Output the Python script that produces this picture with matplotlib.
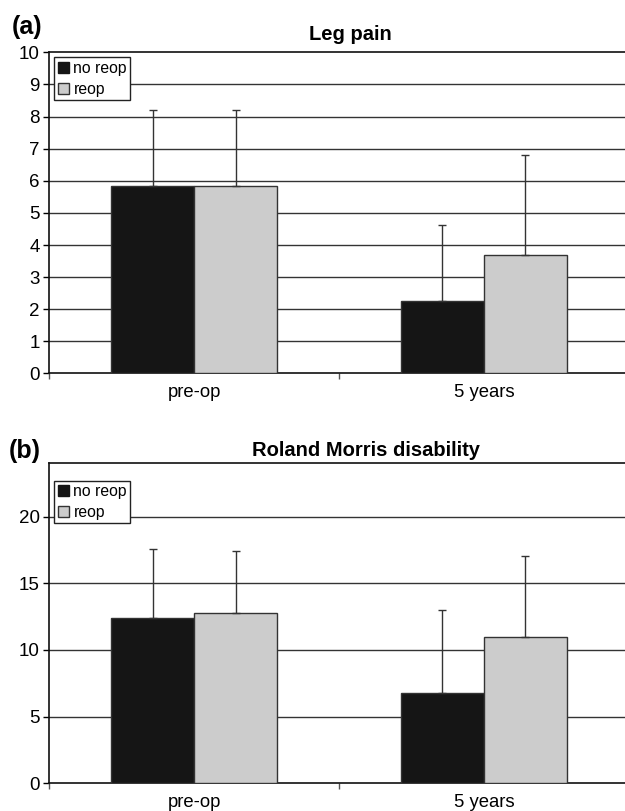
import matplotlib
matplotlib.use("Agg")
import matplotlib.pyplot as plt
from matplotlib.patches import Patch
import numpy as np

plt.rcParams["font.family"] = ["Liberation Sans", "DejaVu Sans"]

BLACK = "#151515"
GREY = "#cccccc"
EDGE = "#333333"
GRID = "#333333"

categories = ["pre-op", "5 years"]
series_names = ["no reop", "reop"]

# (a) Leg pain
leg_noreop = [5.85, 2.26]
leg_reop = [5.85, 3.70]
leg_noreop_sd = [2.34, 2.36]
leg_reop_sd = [2.34, 3.11]
leg_ticks = [0, 1, 2, 3, 4, 5, 6, 7, 8, 9, 10]

# (b) Roland Morris disability
rm_noreop = [12.38, 6.80]
rm_reop = [12.77, 10.95]
rm_noreop_sd = [5.17, 6.22]
rm_reop_sd = [4.63, 6.10]
rm_ticks = [0, 5, 10, 15, 20]


def panel(ax, noreop, reop, sd_n, sd_r, ymax, ticks, legend_top):
    x = np.arange(len(categories))
    w = 0.286
    for vals, sd, col, off in [(noreop, sd_n, BLACK, -w / 2), (reop, sd_r, GREY, w / 2)]:
        ax.bar(x + off, vals, width=w, color=col, edgecolor=EDGE, linewidth=1, zorder=3)
        ax.errorbar(x + off, vals, yerr=[np.zeros(len(sd)), sd], fmt="none",
                    ecolor="#333333", elinewidth=1, capsize=3, capthick=1, zorder=4)

    ax.set_xlim(-0.5, 1.5)
    ax.set_ylim(0, ymax)
    ax.set_yticks(ticks)
    ax.set_yticklabels([str(t) for t in ticks], fontsize=13.5)
    for t in ticks[1:]:
        if t < ymax:
            ax.axhline(t, color=GRID, linewidth=1, zorder=1)

    ax.set_xticks([-0.5, 0.5, 1.5])
    ax.set_xticklabels([])
    ax.tick_params(axis="x", direction="out", length=4, width=1, color="#555555")
    ax.tick_params(axis="y", direction="out", length=4, width=1, pad=3)
    for i, c in enumerate(categories):
        ax.text(i, -0.032, c, transform=ax.get_xaxis_transform(),
                ha="center", va="top", fontsize=13.3)

    ax.spines["right"].set_visible(False)
    for s in ["left", "bottom", "top"]:
        ax.spines[s].set_color("#111111")
        ax.spines[s].set_linewidth(1.2)

    handles = [Patch(facecolor=BLACK, edgecolor=BLACK, label=series_names[0]),
               Patch(facecolor=GREY, edgecolor=EDGE, label=series_names[1])]
    leg = ax.legend(handles=handles, loc="upper left", bbox_to_anchor=(0.0086, legend_top),
                    prop={"size": 11.3}, frameon=True, fancybox=False, framealpha=1,
                    handlelength=0.7, handleheight=0.7, handletextpad=0.3,
                    borderpad=0.22, labelspacing=0.38, borderaxespad=0)
    leg.get_frame().set_edgecolor("#222222")
    leg.get_frame().set_linewidth(1)
    leg.set_zorder(5)


fig = plt.figure(figsize=(6.25, 8.11), dpi=100)

ax1 = fig.add_axes([0.0789, 0.5395, 0.927, 0.396])
panel(ax1, leg_noreop, leg_reop, leg_noreop_sd, leg_reop_sd, 10, leg_ticks, 0.984)

ax2 = fig.add_axes([0.0789, 0.0342, 0.927, 0.3945])
panel(ax2, rm_noreop, rm_reop, rm_noreop_sd, rm_reop_sd, 24, rm_ticks, 0.946)

fig.text(350 / 625, 1 - 34 / 811, "Leg pain", ha="center", va="center",
         fontsize=14.5, fontweight="bold")
fig.text(366 / 625, 1 - 450 / 811, "Roland Morris disability", ha="center", va="center",
         fontsize=14.5, fontweight="bold")
fig.text(12 / 625, 1 - 27 / 811, "(a)", ha="left", va="center", fontsize=18, fontweight="bold")
fig.text(9 / 625, 1 - 451 / 811, "(b)", ha="left", va="center", fontsize=18, fontweight="bold")

fig.savefig("out.png", dpi=100)
